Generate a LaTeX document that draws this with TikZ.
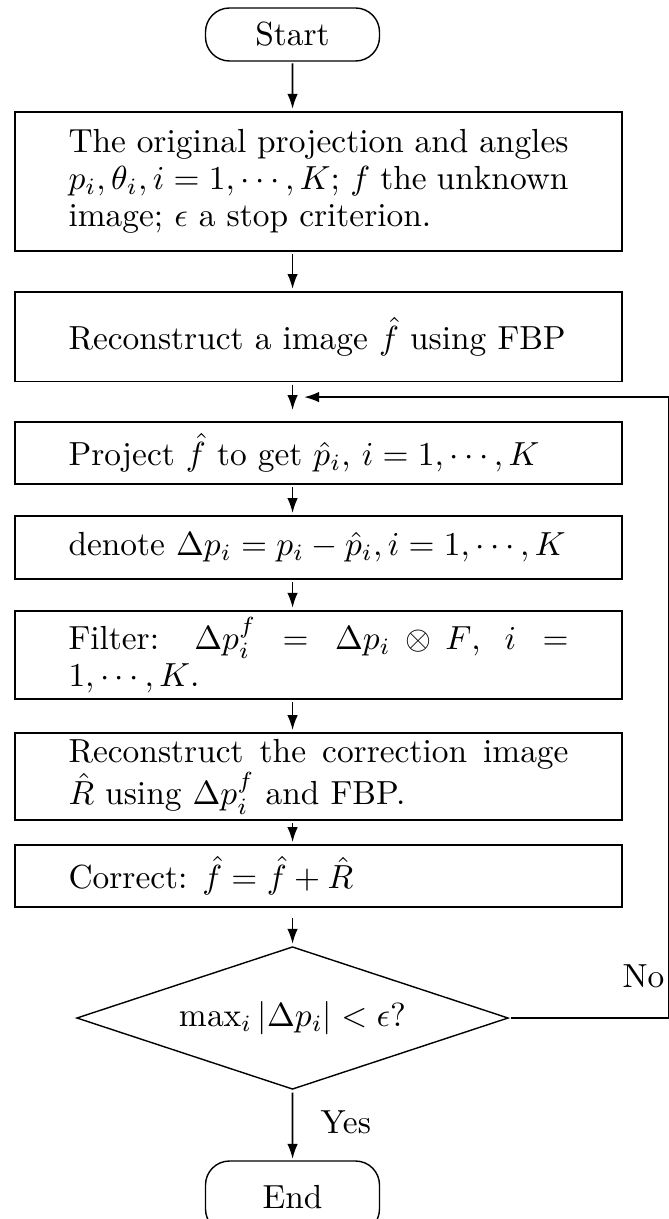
\documentclass[tikz,border=0pt]{standalone}
\usetikzlibrary{shapes.geometric,arrows.meta}
\tikzset{
  txt/.style={font=\fontsize{10}{11}\selectfont},
  stepbox/.style={draw, line width=1.8pt, rectangle, text width=149.7pt, align=justify,
    inner xsep=16.02pt, inner ysep=0pt, txt},
  term/.style={draw, line width=1.4pt, rounded corners=24pt, minimum width=52.1pt,
    inner sep=0pt, txt},
  decide/.style={draw, line width=1.4pt, diamond, aspect=3, minimum width=129.64pt,
    minimum height=43.11pt, inner sep=0pt, txt},
  arr/.style={line width=1.8pt, -{Latex[length=15pt,width=10.5pt]}},
  lbl/.style={txt, inner sep=0pt}
}
\begin{document}
\begin{tikzpicture}[x=0.299401pt, y=-0.299401pt, scale=3.34, every node/.append style={transform shape}]
\useasboundingbox (0,0) rectangle (668,1219);
\node[term, minimum height=15.87pt] (start) at (292.5,34.5) {Start};
\node[stepbox, minimum height=41.62pt] (b1) at (318.5,181.4)
  {The original projection and angles\linebreak $p_i,\theta_i,i=1,\cdots,K$; $f$ the unknown\linebreak image; $\epsilon$ a stop criterion.};
\node[stepbox, minimum height=26.8pt] (b2) at (318.5,336.7)
  {Reconstruct a image $\hat f$ using FBP};
\node[stepbox, minimum height=18.56pt] (b3) at (318.5,453)
  {Project $\hat f$ to get $\hat p_i$, $i=1,\cdots,K$};
\node[stepbox, minimum height=18.86pt] (b4) at (318.5,547.5)
  {denote $\Delta p_i=p_i-\hat p_i,i=1,\cdots,K$};
\node[stepbox, minimum height=26.5pt] (b5) at (318.5,655)
  {Filter: $\Delta p_i^f = \Delta p_i \otimes F$, $i =$\linebreak $1,\cdots,K$.};
\node[stepbox, minimum height=26.05pt] (b6) at (318.5,776.5)
  {Reconstruct the correction image\linebreak $\hat R$ using $\Delta p_i^f$ and FBP.};
\node[stepbox, minimum height=18.56pt] (b7) at (318.5,876)
  {Correct: $\hat f=\hat f+\hat R$};
\node[decide] (dia) at (292.5,1018) {$\max_i|\Delta p_i|<\epsilon$?};
\node[term, minimum height=21.56pt] (end) at (292.5,1197) {End};
\node[lbl, anchor=base west] (no) at (622,987) {No};
\node[lbl, anchor=base west] (yes) at (320,1133) {Yes};
\coordinate (fbR) at (669.2,397);
\coordinate (fbL) at (304,397);

\draw[arr] (start) -- (start |- b1.north);
\draw[arr] (b1.south -| start) -- (b2.north -| start);
\draw[arr, shorten >=9pt] (b2.south -| start) -- (b3.north -| start);
\draw[arr] (b3.south -| start) -- (b4.north -| start);
\draw[arr] (b4.south -| start) -- (b5.north -| start);
\draw[arr] (b5.south -| start) -- (b6.north -| start);
\draw[arr] (b6.south -| start) -- (b7.north -| start);
\draw[arr, shorten <=8pt] (b7.south -| start) -- (dia.north);
\draw[arr] (dia.south) -- (end);
\draw[arr] (dia.east) -- (dia.east -| fbR) -- (fbR) -- (fbL);
\end{tikzpicture}
\end{document}
